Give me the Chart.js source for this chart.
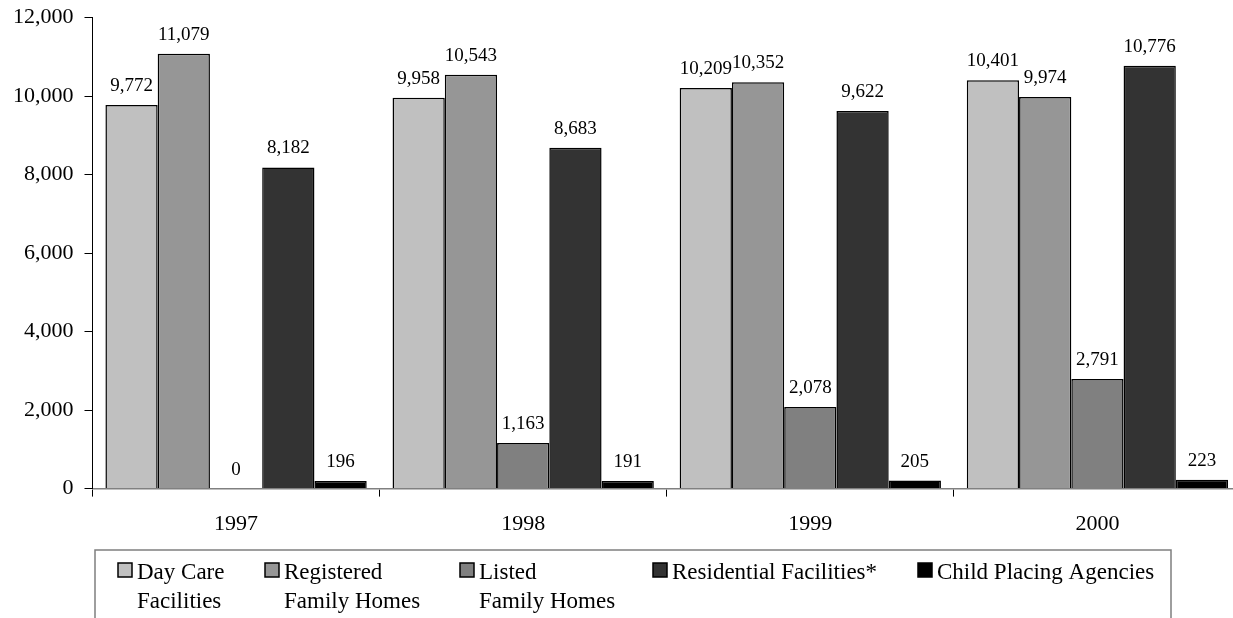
<!DOCTYPE html>
<html>
<head>
<meta charset="utf-8">
<script src="https://cdn.jsdelivr.net/npm/chart.js@4/dist/chart.umd.min.js"></script>
<style>
  html, body { margin: 0; padding: 0; background: #fff; overflow: hidden; }
  #wrap { width: 1241px; height: 618px; }
</style>
</head>
<body>
<div id="wrap"><canvas id="chart" width="1241" height="618"></canvas></div>
<script>
var years = ['1997', '1998', '1999', '2000'];
var seriesNames = ['Day Care\nFacilities', 'Registered\nFamily Homes', 'Listed\nFamily Homes', 'Residential Facilities*', 'Child Placing Agencies'];
var dayCare = [9772, 9958, 10209, 10401];
var registered = [11079, 10543, 10352, 9974];
var listed = [0, 1163, 2078, 2791];
var residential = [8182, 8683, 9622, 10776];
var childPlacing = [196, 191, 205, 223];
var yTicks = [0, 2000, 4000, 6000, 8000, 10000, 12000];

var fillColors = ['#c0c0c0', '#969696', '#808080', '#333333', '#000000'];
var serif = "'Liberation Serif', 'Times New Roman', serif";

// value labels above every bar
var valueLabels = {
    id: 'valueLabels',
    afterDatasetsDraw: function(chart) {
        var ctx = chart.ctx;
        ctx.save();
        ctx.font = '19px ' + serif;
        ctx.fillStyle = '#000';
        ctx.textAlign = 'center';
        ctx.textBaseline = 'alphabetic';
        chart.data.datasets.forEach(function(ds, i) {
            chart.getDatasetMeta(i).data.forEach(function(bar, j) {
                ctx.fillText(ds.data[j].toLocaleString('en-US'), bar.x, bar.y - 14);
            });
        });
        ctx.restore();
    }
};

// boxed legend with two-line labels, like the original
var boxLegend = {
    id: 'boxLegend',
    afterDraw: function(chart, args, opts) {
        var ctx = chart.ctx, h = chart.height;
        ctx.save();
        ctx.strokeStyle = '#7f7f7f';
        ctx.lineWidth = 1.5;
        ctx.beginPath();
        ctx.moveTo(opts.left, h);
        ctx.lineTo(opts.left, opts.top);
        ctx.lineTo(opts.right, opts.top);
        ctx.lineTo(opts.right, h);
        ctx.stroke();

        ctx.font = '23px ' + serif;
        ctx.fillStyle = '#000';
        ctx.textBaseline = 'alphabetic';
        chart.data.datasets.forEach(function(ds, i) {
            var x = opts.itemX[i];
            ctx.fillStyle = ds.backgroundColor;
            ctx.fillRect(x, opts.top + 13, 14, 14);
            ctx.strokeStyle = '#000';
            ctx.lineWidth = 1.5;
            ctx.strokeRect(x, opts.top + 13, 14, 14);
            ctx.fillStyle = '#000';
            ds.label.split('\n').forEach(function(line, k) {
                ctx.fillText(line, x + 19, opts.top + 29 + k * 29);
            });
        });
        ctx.restore();
    }
};

var chart = new Chart(document.getElementById('chart'), {
    type: 'bar',
    data: {
        labels: years,
        datasets: [dayCare, registered, listed, residential, childPlacing].map(function(values, i) {
            return {
                label: seriesNames[i],
                data: values,
                backgroundColor: fillColors[i],
                borderColor: '#000',
                borderWidth: 1.5,
                categoryPercentage: 0.91,
                barPercentage: 1
            };
        })
    },
    options: {
        responsive: false,
        animation: false,
        layout: { padding: { left: 2, right: 0, top: 16, bottom: 67 } },
        plugins: {
            legend: { display: false },
            tooltip: { enabled: false },
            boxLegend: { left: 95, right: 1171, top: 550, itemX: [118, 265, 460, 653, 918] }
        },
        scales: {
            x: {
                grid: { display: true, drawOnChartArea: false, offset: true, tickLength: 8, color: '#000', lineWidth: 1 },
                border: { display: true, color: '#808080', width: 1.5 },
                ticks: { color: '#000', font: { family: serif, size: 22 }, padding: 14 }
            },
            y: {
                min: 0,
                max: 12000,
                afterBuildTicks: function(axis) {
                    axis.ticks = yTicks.map(function(v) { return { value: v }; });
                },
                grid: { display: true, drawOnChartArea: false, tickLength: 8, color: '#000', lineWidth: 1 },
                border: { display: true, color: '#000', width: 1 },
                ticks: {
                    color: '#000',
                    font: { family: serif, size: 22, lineHeight: 0.6 },
                    padding: 11,
                    callback: function(v) { return v.toLocaleString('en-US'); }
                }
            }
        }
    },
    plugins: [valueLabels, boxLegend]
});
</script>
</body>
</html>
